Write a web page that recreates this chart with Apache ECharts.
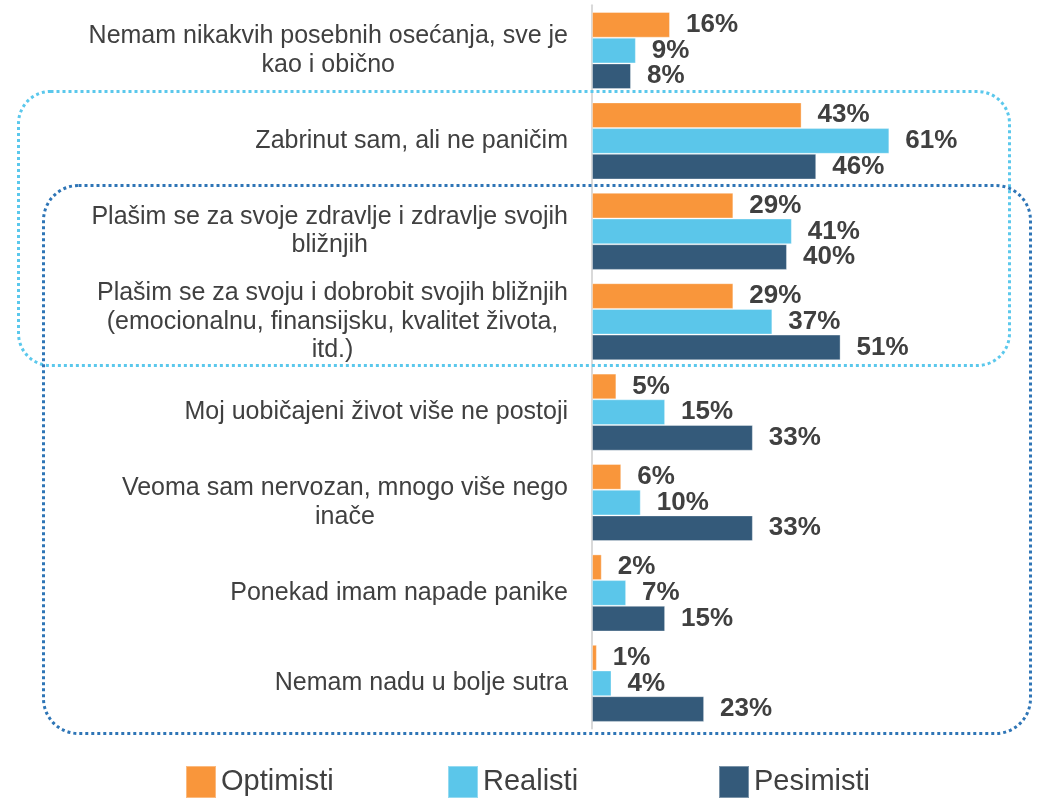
<!DOCTYPE html>
<html>
<head>
<meta charset="utf-8">
<script src="https://cdn.jsdelivr.net/npm/echarts@6/dist/echarts.min.js"></script>
<style>
  html, body { margin: 0; padding: 0; background: #fff; }
  #chart { width: 1038px; height: 799px; }
</style>
</head>
<body>
<div id="chart"></div>
<script>
// ---------------------------------------------------
// Datos
// ---------------------------------------------------
const categorias = [
  "Nemam nikakvih posebnih osećanja, sve je\nkao i obično",
  "Zabrinut sam, ali ne paničim",
  "Plašim se za svoje zdravlje i zdravlje svojih\nbližnjih",
  "Plašim se za svoju i dobrobit svojih bližnjih\n(emocionalnu, finansijsku, kvalitet života,\nitd.)",
  "Moj uobičajeni život više ne postoji",
  "Veoma sam nervozan, mnogo više nego\ninače",
  "Ponekad imam napade panike",
  "Nemam nadu u bolje sutra"
];
const optimisti = [16, 43, 29, 29, 5, 6, 2, 1];
const realisti  = [9, 61, 41, 37, 15, 10, 7, 4];
const pesimisti = [8, 46, 40, 51, 33, 33, 15, 23];

const nombresSeries = ["Optimisti", "Realisti", "Pesimisti"];
const colores = ["#F9963B", "#5BC6EA", "#345A7A"];

const fuente = "'Liberation Sans', Arial, sans-serif";
const gris = "#404040";

// ---------------------------------------------------
// Chart
// ---------------------------------------------------
const chart = echarts.init(document.getElementById("chart"));

const serie = (nombre, datos, color) => ({
  name: nombre,
  type: "bar",
  data: datos,
  barGap: "0%",
  barCategoryGap: "14.7%",
  itemStyle: { color: color, borderColor: "rgba(255,255,255,0.35)", borderWidth: 1 },
  label: {
    show: true,
    position: "right",
    distance: 16,
    formatter: "{c}%",
    fontFamily: fuente,
    fontSize: 26,
    fontWeight: "bold",
    color: gris
  }
});

const leyenda = (nombre, left) => ({
  data: [nombre],
  left: left,
  top: 765,
  padding: 0,
  icon: "rect",
  itemWidth: 30,
  itemHeight: 32,
  itemGap: 0,
  selectedMode: false,
  textStyle: { fontFamily: fuente, fontSize: 29, color: gris }
});

const option = {
  animation: false,
  textStyle: { fontFamily: fuente },
  grid: { left: 592, right: 7.3, top: 5.35, height: 723.2, containLabel: false },
  xAxis: {
    type: "value",
    min: 0,
    max: 90,
    show: false
  },
  yAxis: {
    type: "category",
    inverse: true,
    data: categorias,
    axisTick: { show: false },
    axisLine: { show: true, lineStyle: { color: "#D9D9D9", width: 2 } },
    axisLabel: {
      margin: 24,
      align: "right",
      formatter: v => v.split("\n").map(l => "{c|" + l + "}").join("\n"),
      rich: {
        c: { align: "center", fontFamily: fuente, fontSize: 25, color: gris, lineHeight: 28.5 }
      }
    }
  },
  legend: [
    leyenda(nombresSeries[0], 185),
    leyenda(nombresSeries[1], 447),
    leyenda(nombresSeries[2], 718)
  ],
  series: [
    serie(nombresSeries[0], optimisti, colores[0]),
    serie(nombresSeries[1], realisti, colores[1]),
    serie(nombresSeries[2], pesimisti, colores[2])
  ],
  graphic: [
    {
      type: "rect",
      z: 100,
      shape: { x: 18.5, y: 91.5, width: 991, height: 274, r: 32 },
      style: { fill: "none", stroke: "#5BC8EC", lineWidth: 3, lineDash: [3, 3] }
    },
    {
      type: "rect",
      z: 100,
      shape: { x: 43.5, y: 185.5, width: 987, height: 548, r: 35 },
      style: { fill: "none", stroke: "#2E75B6", lineWidth: 3, lineDash: [3, 3] }
    }
  ]
};

chart.setOption(option);
</script>
</body>
</html>
